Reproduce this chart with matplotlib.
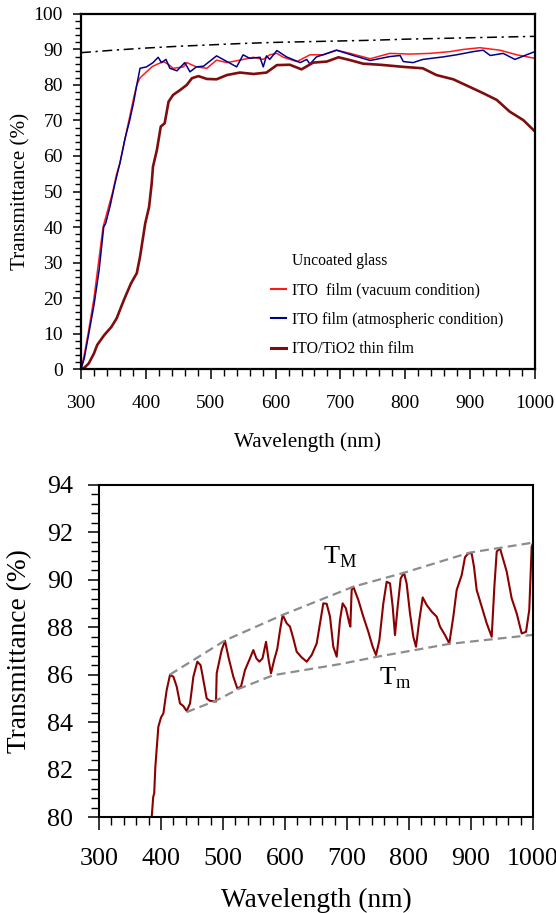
import numpy as np
import matplotlib
matplotlib.use("Agg")
import matplotlib.pyplot as plt
from matplotlib.lines import Line2D
from matplotlib.ticker import MultipleLocator

plt.rcParams['font.family'] = 'Liberation Serif'
plt.rcParams['mathtext.fontset'] = 'custom'
plt.rcParams['mathtext.rm'] = 'Liberation Serif'

# ---- spectra, full range ----
glass_wl = [300, 350, 400, 450, 500, 550, 600, 650, 700, 750, 800, 850, 900, 950, 1000]
glass_T = [89.1, 89.8, 90.4, 90.9, 91.3, 91.7, 92.0, 92.2, 92.4, 92.6, 92.9, 93.1, 93.3, 93.5, 93.7]

vac_wl = [300, 305, 311, 320, 327, 334, 340, 349, 355, 360, 368, 375, 382, 386, 391,
          401, 410, 417, 427, 435, 442, 458, 463, 478, 494, 509, 525, 545, 566, 581,
          591, 602, 612, 633, 653, 674, 694, 715, 746, 776, 807, 838, 869, 889, 915,
          946, 972, 1000]
vac_T = [0, 4, 10, 20, 30, 40, 44, 50, 55, 58, 65, 71, 77, 80, 82,
         83.7, 85.2, 85.8, 86.6, 85.8, 84.7, 85.1, 86.3, 85.1, 84.7, 87.0, 86.3, 87.0, 87.8, 87.2,
         88.5, 88.9, 87.8, 86.6, 88.5, 88.5, 89.8, 88.9, 87.4, 88.9, 88.7, 88.9, 89.4, 90.0, 90.5,
         89.8, 88.5, 87.5]

atm_wl = [300, 305, 311, 320, 328, 335, 338, 345, 352, 360, 368, 375, 381, 386, 391,
          401, 411, 419, 424, 431, 437, 448, 460, 468, 478, 489, 509, 525, 540, 550,
          560, 576, 581, 586, 591, 602, 617, 638, 648, 653, 663, 694, 720, 746, 776,
          792, 797, 812, 827, 858, 879, 905, 920, 931, 951, 969, 987, 1000]
atm_T = [0, 3, 9, 18, 28, 40, 41, 46, 52, 58, 65, 70, 75, 80, 84.7,
         85.1, 86.3, 87.8, 86.3, 87.2, 84.7, 84.0, 86.3, 83.7, 85.1, 85.3, 88.2, 86.6, 85.1, 88.5,
         87.5, 87.8, 85.1, 88.2, 87.2, 89.7, 87.9, 86.3, 87.2, 85.9, 87.9, 89.8, 88.3, 86.9, 88.0,
         88.3, 86.6, 86.3, 87.2, 87.9, 88.5, 89.4, 89.8, 88.3, 88.9, 87.2, 88.5, 89.4]

tio2_wl = [300, 306, 312, 320, 325, 336, 347, 355, 366, 377, 386, 391, 399, 405, 409,
           411, 417, 423, 429, 435, 442, 453, 463, 471, 481, 494, 509, 525, 545, 566,
           586, 602, 622, 640, 658, 679, 697, 715, 735, 761, 797, 827, 848, 874, 900,
           920, 941, 961, 982, 1000]
tio2_T = [0, 0.5, 1.6, 4.4, 6.8, 9.6, 11.9, 14.3, 19.4, 24.1, 27.0, 31.6, 41.0, 45.7, 52.3,
          57.0, 61.7, 68.3, 69.2, 75.3, 77.2, 78.6, 80.0, 81.9, 82.5, 81.7, 81.6, 82.8, 83.5, 83.1,
          83.5, 85.6, 85.7, 84.4, 86.3, 86.6, 87.8, 87.0, 86.0, 85.7, 85.1, 84.7, 82.8, 81.6, 79.4,
          77.7, 75.8, 72.5, 70.1, 66.9]

# ---- ITO/TiO2 film, zoomed, with envelopes ----
film_wl = [385, 387.4, 389, 390.8, 395.7, 400, 403.8, 409.1, 414.5, 419.9, 425.3, 430.6,
           436, 441.4, 446.8, 452.2, 458.6, 463.9, 468.3, 473.7, 479, 488.7, 489.8, 497.8,
           503.2, 508.6, 516.6, 523.1, 529, 535.5, 543.5, 548.9, 553.8, 558.6, 563.7, 569.4,
           573.6, 577.4, 582.5, 587.6, 592, 596.2, 602.7, 608, 613.4, 618.8, 626.9, 635,
           643, 651.1, 656.5, 661.8, 667.2, 672.6, 677.9, 683.4, 688.7, 693, 698.2, 703.8,
           705.4, 707.5, 710.2, 718.3, 726.3, 734.4, 741.4, 746.8, 752.2, 758.6, 764, 769.4,
           773.7, 777.4, 781.7, 786.6, 791.9, 796.2, 801.6, 807, 811.3, 816.7, 822.1, 828.5,
           836.6, 844.7, 850, 858.1, 865, 871.5, 876.9, 885, 890.3, 895.6, 901, 904.8, 909.2,
           917.3, 925.3, 933.4, 937.7, 941.5, 946.8, 952.2, 957.6, 965.6, 973.7, 981.8, 988.8,
           994, 997.9, 1000]
film_T = [80.0, 80.85, 81.0, 82.1, 83.81, 84.2, 84.37, 85.35, 85.99, 85.92, 85.5, 84.79,
          84.68, 84.47, 84.79, 85.92, 86.55, 86.4, 85.78, 85.0, 84.9, 84.87, 86.06, 87.04,
          87.43, 86.76, 85.92, 85.42, 85.5, 86.2, 86.69, 87.04, 86.69, 86.55, 86.69, 87.39,
          86.62, 86.06, 86.62, 87.1, 87.88, 88.52, 88.17, 88.03, 87.53, 86.97, 86.73, 86.55,
          86.83, 87.32, 88.17, 89.01, 88.99, 88.45, 87.18, 86.76, 88.31, 89.01, 88.8, 88.17,
          88.03, 89.57, 89.71, 89.15, 88.45, 87.81, 87.18, 86.83, 87.45, 89.01, 89.92, 89.85,
          88.87, 87.67, 88.87, 90.06, 90.3, 89.85, 88.59, 87.6, 87.18, 88.31, 89.26, 88.94,
          88.66, 88.45, 88.03, 87.67, 87.32, 88.45, 89.57, 90.2, 90.95, 91.12, 91.12, 90.56, 89.57,
          88.87, 88.17, 87.6, 89.71, 91.19, 91.33, 90.84, 90.35, 89.22, 88.59, 87.74, 87.81,
          88.73, 91.4, 91.54]

TM_wl = [414, 503.5, 596, 710, 792, 898, 947, 1000]
TM_T = [86.0, 87.45, 88.52, 89.71, 90.3, 91.15, 91.35, 91.57]
Tm_wl = [441, 488, 525, 581, 689, 747, 865, 1000]
Tm_T = [84.42, 84.9, 85.4, 85.98, 86.45, 86.75, 87.3, 87.68]

fig = plt.figure(figsize=(5.56, 9.13), dpi=100)
ax1 = fig.add_axes([0.1457, 0.5958, 0.8165, 0.3889])
ax2 = fig.add_axes([0.1781, 0.1051, 0.7805, 0.3637])

# top panel
ax1.plot(glass_wl, glass_T, color='black', lw=1.1, linestyle=(0, (6.5, 3, 1.5, 3)))
ax1.plot(vac_wl, vac_T, color='#ff1a1a', lw=1.1)
ax1.plot(atm_wl, atm_T, color='#00008b', lw=1.1)
ax1.plot(tio2_wl, tio2_T, color='#7f0d0d', lw=1.9)

ax1.set_xlim(300, 1000)
ax1.set_ylim(0, 100)
ax1.xaxis.set_major_locator(MultipleLocator(100))
ax1.xaxis.set_minor_locator(MultipleLocator(20))
ax1.yaxis.set_major_locator(MultipleLocator(10))
ax1.yaxis.set_minor_locator(MultipleLocator(2))
ax1.tick_params(axis='x', which='major', direction='out', length=7, width=1.1, pad=12, labelsize=14)
ax1.tick_params(axis='x', which='minor', direction='out', length=5, width=1.0)
ax1.tick_params(axis='y', which='major', direction='out', length=6, width=1.1, pad=7, labelsize=14)
ax1.tick_params(axis='y', which='minor', direction='out', length=4, width=1.0)
for s in ax1.spines.values():
    s.set_linewidth(1.6)
ax1.set_xlabel('Wavelength (nm)', fontsize=15.2, va='center')
ax1.set_ylabel('Transmittance (%)', fontsize=15.2, va='center')
ax1.xaxis.set_label_coords(0.5, -0.205)
ax1.yaxis.set_label_coords(-0.132, 0.5)

handles = [Line2D([], [], color='none'),
           Line2D([], [], color='#ff1a1a', lw=1.5),
           Line2D([], [], color='#00008b', lw=1.5),
           Line2D([], [], color='#7f0d0d', lw=2.2)]
labels = ['Uncoated glass', 'ITO  film (vacuum condition)',
          'ITO film (atmospheric condition)', 'ITO/TiO2 thin film']
ax1.legend(handles, labels, loc='upper left', bbox_to_anchor=(0.4185, 0.327),
           frameon=False, fontsize=11.3, handlelength=0.95, handletextpad=0.4,
           labelspacing=0.86, borderpad=0, borderaxespad=0)

# bottom panel
ax2.plot(film_wl, film_T, color='#8b0000', lw=1.5)
ax2.plot(TM_wl, TM_T, color='#8c8c8c', lw=1.6, dashes=(4, 2.3))
ax2.plot(Tm_wl, Tm_T, color='#8c8c8c', lw=1.6, dashes=(4, 2.3))
ax2.text(689, 90.96, r'T$_{\mathrm{M}}$', fontsize=19, ha='center', va='center')
ax2.text(777, 85.86, r'T$_{\mathrm{m}}$', fontsize=19, ha='center', va='center')

ax2.set_xlim(300, 1000)
ax2.set_ylim(80, 94)
ax2.xaxis.set_major_locator(MultipleLocator(100))
ax2.xaxis.set_minor_locator(MultipleLocator(20))
ax2.yaxis.set_major_locator(MultipleLocator(2))
ax2.yaxis.set_minor_locator(MultipleLocator(0.4))
ax2.tick_params(axis='x', which='major', direction='out', length=9, width=1.1, pad=13, labelsize=18.7)
ax2.tick_params(axis='x', which='minor', direction='out', length=6, width=1.0)
ax2.tick_params(axis='y', which='major', direction='out', length=8, width=1.1, pad=11, labelsize=18.7)
ax2.tick_params(axis='y', which='minor', direction='out', length=6, width=1.0)
for s in ax2.spines.values():
    s.set_linewidth(1.5)
ax2.set_xlabel('Wavelength (nm)', fontsize=19.7, va='center')
ax2.set_ylabel('Transmittance (%)', fontsize=19.7, va='center')
ax2.xaxis.set_label_coords(0.5, -0.25)
ax2.yaxis.set_label_coords(-0.182, 0.5)

fig.savefig('out.png', dpi=100)
